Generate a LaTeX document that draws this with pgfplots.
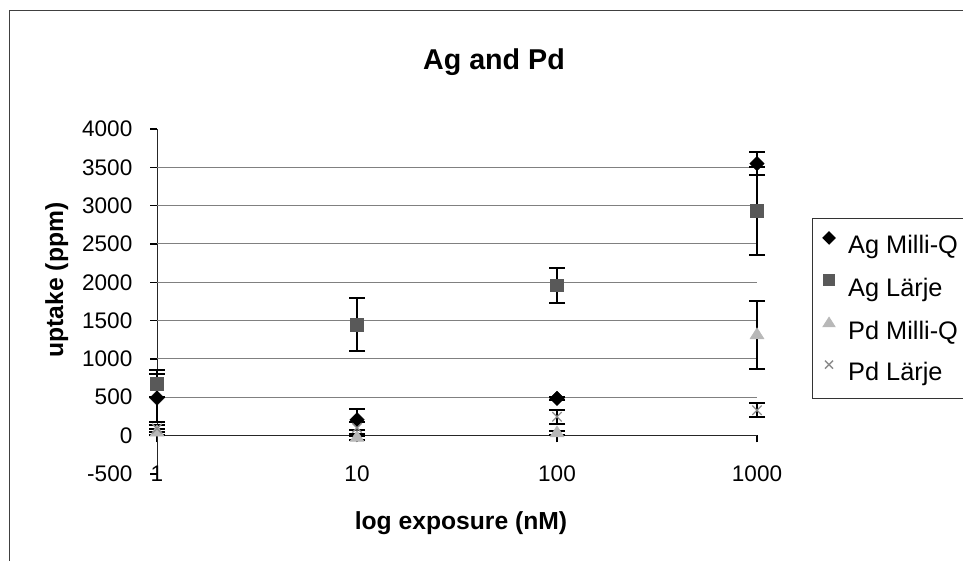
\documentclass[border=0pt]{standalone}
\usepackage{fontspec}
\setmainfont{Liberation Sans}
\usepackage{pgfplots}
\pgfplotsset{compat=1.18}
\newlength\px \setlength\px{0.75pt}
\definecolor{aglarje}{gray}{0.35}
\definecolor{pdmq}{gray}{0.72}
\definecolor{pdlarje}{gray}{0.55}

\begin{document}
\begin{tikzpicture}
\useasboundingbox (0,0) rectangle (963\px,560\px);
\draw[black!75, line width=1\px] (9\px,-20\px) |- (990\px,549\px);
\node[font=\bfseries\fontsize{21.5}{24}\selectfont, anchor=base] at (494\px,490\px) {Ag and Pd};
\node[font=\bfseries\fontsize{18.5}{21}\selectfont, anchor=base] at (461\px,31\px) {log exposure (nM)};
\node[font=\bfseries\fontsize{18.5}{21}\selectfont, rotate=90, anchor=base] at (63\px,280\px) {uptake (ppm)};
\begin{axis}[
  at={(157\px,86.2\px)}, anchor=south west,
  scale only axis, width=600\px, height=344.7\px,
  xmode=log, xmin=1, xmax=1000, ymin=-500, ymax=4000,
  axis y line*=left, axis x line*=middle,
  hide obscured x ticks=false, hide obscured y ticks=false,
  axis line style={black!85, line width=1\px},
  xtick={1,10,100,1000}, xticklabels={1,10,100,1000},
  xminorticks=false, yminorticks=false,
  ytick={-500,0,...,4000},
  yticklabels={-500,0,500,1000,1500,2000,2500,3000,3500,4000},
  xtick align=outside, ytick align=outside, major tick length=5.25pt,
  every tick/.style={black, line width=1.1pt},
  tick label style={font=\fontsize{16.9}{19}\selectfont},
  xticklabel style={anchor=base, yshift=-39\px},
  yticklabel style={xshift=-13\px},
  extra y ticks={500,1000,...,3500}, extra y tick labels={},
  extra y tick style={grid=major},
  grid style={black!50, line width=1\px},
  clip=false,
  legend style={at={(1.0917,0.742)}, anchor=north west, draw=black!80, line width=1\px,
    inner xsep=4pt, inner ysep=10pt, row sep=12pt,
    font=\fontsize{19}{21}\selectfont,
    nodes={inner sep=0pt, text height=13.9pt, text depth=4pt},
    /tikz/every odd column/.append style={column sep=6pt}},
  legend cell align=left,
  legend image code/.code={\path (0pt,0pt) (16pt,0pt);
    \draw[every mark/.append style={scale=0.85}] plot coordinates {(8pt,6.8pt)};},
  error bars/y dir=both, error bars/y explicit,
  error bars/error bar style={black, line width=1.5pt},
  error bars/error mark options={black, line width=1.5pt, mark size=6pt, rotate=90},
]
% Ag Milli-Q
\addplot[only marks, mark=square*, mark size=3.8pt, mark options={draw=black, fill=black, rotate=45}]
  table[x=x, y=y, y error=e] {
x     y     e
1     490   315
10    205   135
100   485   20
1000  3550  150
};
% Ag Lärje
\addplot[only marks, mark=square*, mark size=4.8pt, mark options={draw=aglarje, fill=aglarje}]
  table[x=x, y=y, y error=e] {
x     y     e
1     680   180
10    1450  345
100   1960  225
1000  2930  580
};
% Pd Milli-Q
\addplot[only marks, mark=triangle*, mark size=5.5pt, mark options={draw=pdmq, fill=pdmq, xscale=1.1}]
  table[x=x, y=y, y error=e] {
x     y     e
1     40    40
10    -30   30
100   30    30
1000  1310  440
};
% Pd Lärje
\addplot[only marks, mark=x, mark size=5pt, mark options={draw=pdlarje, line width=1pt}]
  table[x=x, y=y, y error=e] {
x     y     e
1     90    50
10    100   80
100   245   90
1000  330   88
};
\legend{Ag Milli-Q, Ag Lärje, Pd Milli-Q, Pd Lärje}
\end{axis}
\end{tikzpicture}
\end{document}
